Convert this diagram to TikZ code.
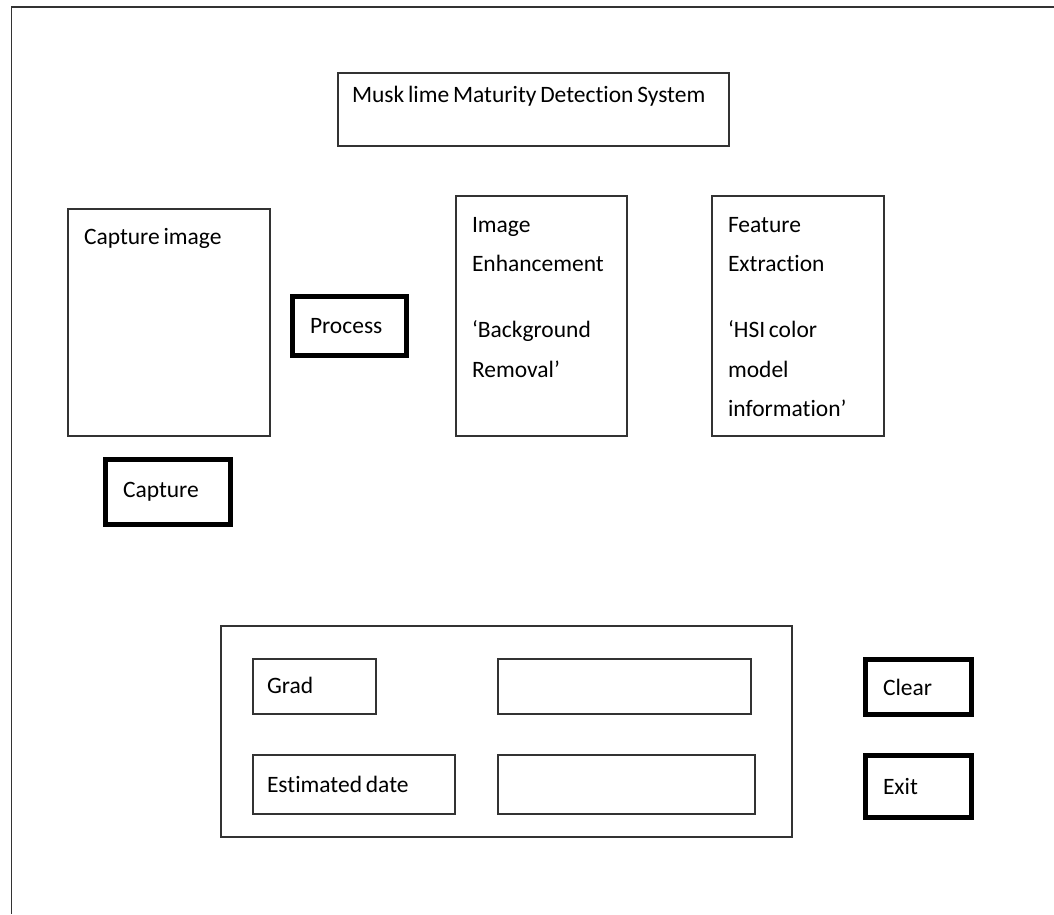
\documentclass[tikz,border=0pt]{standalone}
\usepackage{fontspec}
\setmainfont[Ligatures=NoCommon, WordSpace=0.7]{Carlito}
\usepackage{tikz}

\tikzset{
    uitext/.style={font=\fontsize{23.5}{39.5}\selectfont, execute at begin node={\spaceskip=0.16em plus 0.04em\relax}},
    panel/.style={draw=black!80, line width=1.6pt, rectangle, inner sep=0pt, outer sep=0pt, anchor=north west},
    button/.style={draw=black, line width=5pt, rectangle, inner ysep=0pt, inner xsep=17.5pt, outer sep=0pt, anchor=north west, uitext},
    field/.style={panel, inner xsep=14pt, uitext},
    caption/.style={inner sep=0pt, outer sep=0pt, anchor=base west, uitext}
}

\begin{document}
\begin{tikzpicture}[x=1pt, y=-1pt]
        \useasboundingbox (0,0) rectangle (1054,914);
        \draw[black!80, line width=1.6pt] (1054,7) -- (11.5,7) -- (11.5,914);

        \node[panel, minimum width=391pt, minimum height=73pt] (title) at (338,73) {};
        \node[caption] (titletext) at ([xshift=14pt, yshift=-29pt]title.north west) {Musk lime Maturity Detection System};

        \node[panel, minimum width=202pt, minimum height=227pt] (capimg) at (68,209) {};
        \node[caption] (capimgtext) at ([xshift=16pt, yshift=-35pt]capimg.north west) {Capture image};
        \node[button, text width=90pt, minimum height=65pt] (capture) at (105.5,459.5) {Capture};
        \node[button, text width=79pt, minimum height=59pt] (process) at (292.5,296.5) {Process};

        \node[panel, minimum width=171pt, minimum height=240pt] (enhance) at (456,196) {};
        \node[caption, text width=150pt] (enhancetext) at ([xshift=16pt, yshift=-36pt]enhance.north west)
            {Image\\Enhancement\\[26.5pt]`Background\\Removal'};

        \node[panel, minimum width=172pt, minimum height=240pt] (feature) at (712,196) {};
        \node[caption, text width=150pt] (featuretext) at ([xshift=16pt, yshift=-36pt]feature.north west)
            {Feature\\Extraction\\[26.5pt]`HSI color\\model\\information'};

        \node[panel, minimum width=571pt, minimum height=211pt] (result) at (221,626) {};
        \node[field, text width=95pt, minimum height=55pt, text depth=3pt] (grad) at (253,659) {Grad};
        \node[panel, minimum width=253pt, minimum height=55pt] (gradvalue) at (498,659) {};
        \node[field, text width=174pt, minimum height=59pt] (estdate) at (253,755) {Estimated date};
        \node[panel, minimum width=257pt, minimum height=59pt] (datevalue) at (498,755) {};

        \node[button, text width=71pt, minimum height=55pt] (clear) at (865.5,659.5) {Clear};
        \node[button, text width=71pt, minimum height=62pt] (exit) at (865.5,755.5) {Exit};
    \end{tikzpicture}
\end{document}
